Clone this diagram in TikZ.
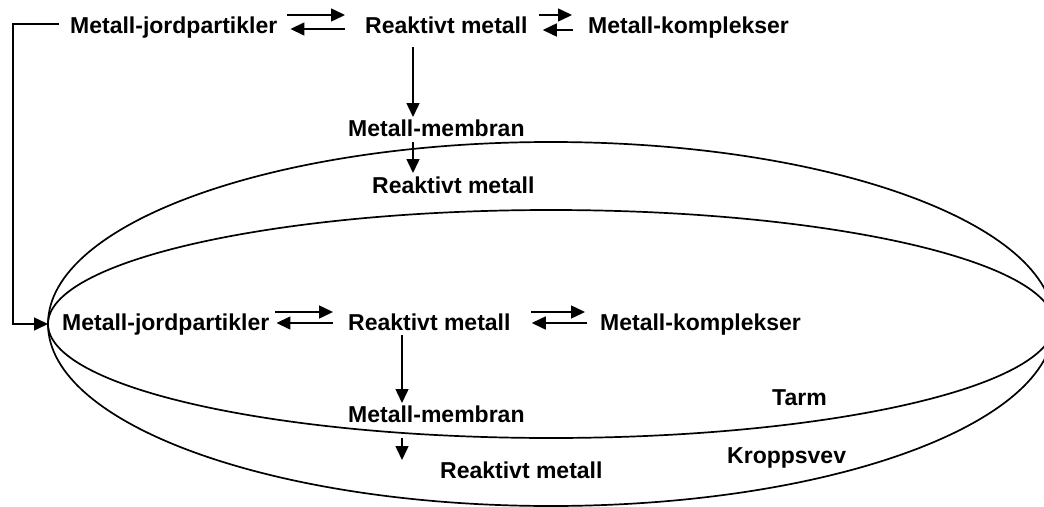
\documentclass[tikz,border=0pt]{standalone}
\usepackage{fontspec}
\setmainfont{Liberation Sans}
\usetikzlibrary{arrows.meta}
\begin{document}
\begin{tikzpicture}[x=1pt,y=-1pt,
  lbl/.style={anchor=base west,inner sep=0pt,font=\fontsize{23}{27}\selectfont\bfseries},
  arr/.style={line width=1.5pt,-{Triangle[length=14pt,width=13pt]}},
  rim/.style={line width=1.7pt}]
\useasboundingbox (0,0) rectangle (1044,506);
% compartments
\draw[rim] (551,324) ellipse [x radius=503pt, y radius=182pt];
\draw[rim] (551,324) ellipse [x radius=503pt, y radius=114pt];
\coordinate (ew) at (48,324);
% labels
\node[lbl] (jp1) at (70,33) {Metall-jordpartikler};
\node[lbl] (rm1) at (365,33) {Reaktivt metall};
\node[lbl] (mk1) at (588,33) {Metall-komplekser};
\node[lbl] (mm1) at (348,136) {Metall-membran};
\node[lbl] (rm2) at (372,193) {Reaktivt metall};
\node[lbl] (jp2) at (62,330) {Metall-jordpartikler};
\node[lbl] (rm3) at (348,330) {Reaktivt metall};
\node[lbl] (mk2) at (600,330) {Metall-komplekser};
\node[lbl] (mm2) at (348,422) {Metall-membran};
\node[lbl] (rm4) at (440,478) {Reaktivt metall};
\node[lbl] (tarm) at (772,405) {Tarm};
\node[lbl] (kv) at (727,463) {Kroppsvev};
% top row equilibria
\draw[arr] ([xshift=10,yshift=18]jp1.base east) -- ([xshift=-20,yshift=18]rm1.base west);
\draw[arr] ([xshift=-20,yshift=4]rm1.base west) -- ([xshift=13,yshift=4]jp1.base east);
\draw[arr] ([xshift=11,yshift=18]rm1.base east) -- ([xshift=-16,yshift=18]mk1.base west);
\draw[arr] ([xshift=-15,yshift=3]mk1.base west) -- ([xshift=15,yshift=3]rm1.base east);
% top vertical chain
\draw[arr] ([xshift=48,yshift=-14]rm1.base west) -- ([xshift=65,yshift=19]mm1.base west);
\draw[arr] ([xshift=65,yshift=-6]mm1.base west) -- ([xshift=41,yshift=20]rm2.base west);
% lower row equilibria
\draw[arr] ([xshift=6,yshift=18]jp2.base east) -- ([xshift=-15,yshift=18]rm3.base west);
\draw[arr] ([xshift=-15,yshift=7]rm3.base west) -- ([xshift=7,yshift=7]jp2.base east);
\draw[arr] ([xshift=20,yshift=18]rm3.base east) -- ([xshift=-15,yshift=18]mk2.base west);
\draw[arr] ([xshift=-13,yshift=7]mk2.base west) -- ([xshift=21,yshift=7]rm3.base east);
% lower vertical chain
\draw[arr] ([xshift=54,yshift=-5]rm3.base west) -- ([xshift=54,yshift=19]mm2.base west);
\draw[arr] ([xshift=54,yshift=-16]mm2.base west) -- ([xshift=-38,yshift=18]rm4.base west);
% transfer from top to lower compartment
\draw[arr] ([xshift=-11,yshift=9]jp1.base west) -| ([xshift=-35]ew) -- (ew);
\end{tikzpicture}
\end{document}
